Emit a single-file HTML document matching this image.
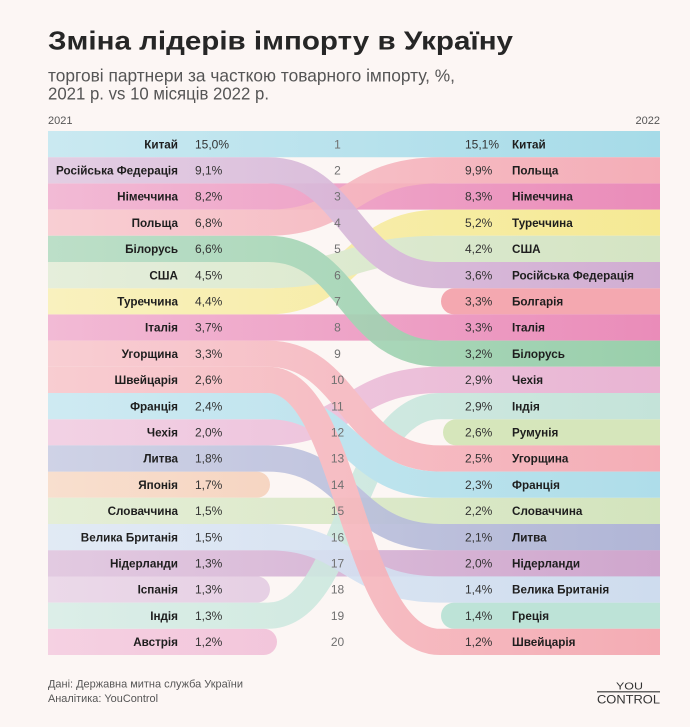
<!DOCTYPE html>
<html><head><meta charset="utf-8">
<style>
html,body{margin:0;padding:0;background:#fcf6f4;}
svg{display:block;}
text{font-family:"Liberation Sans","DejaVu Sans",sans-serif;}
.nm{font-size:11.7px;font-weight:bold;fill:#1e1e1e;}
.vl{font-size:12px;fill:#333;}
.rk{font-size:12px;fill:#707070;text-anchor:middle;}
</style></head>
<body>
<svg width="690" height="727" viewBox="0 0 690 727" xmlns="http://www.w3.org/2000/svg">
<rect width="690" height="727" fill="#fcf6f4"/>
<defs>
<linearGradient id="g1" gradientUnits="userSpaceOnUse" x1="48" y1="0" x2="660" y2="0"><stop offset="0" stop-color="#cae9f1"/><stop offset="1" stop-color="#a6dbe8"/></linearGradient>
<linearGradient id="g2" gradientUnits="userSpaceOnUse" x1="48" y1="0" x2="660" y2="0"><stop offset="0" stop-color="#e1cae2"/><stop offset="1" stop-color="#cda6cf"/></linearGradient>
<linearGradient id="g3" gradientUnits="userSpaceOnUse" x1="48" y1="0" x2="660" y2="0"><stop offset="0" stop-color="#f2bad5"/><stop offset="1" stop-color="#ea8cb9"/></linearGradient>
<linearGradient id="g4" gradientUnits="userSpaceOnUse" x1="48" y1="0" x2="660" y2="0"><stop offset="0" stop-color="#f8cad0"/><stop offset="1" stop-color="#f4a6b1"/></linearGradient>
<linearGradient id="g5" gradientUnits="userSpaceOnUse" x1="48" y1="0" x2="660" y2="0"><stop offset="0" stop-color="#b6ddc4"/><stop offset="1" stop-color="#8fcba4"/></linearGradient>
<linearGradient id="g6" gradientUnits="userSpaceOnUse" x1="48" y1="0" x2="660" y2="0"><stop offset="0" stop-color="#e3eed9"/><stop offset="1" stop-color="#d0e3bf"/></linearGradient>
<linearGradient id="g7" gradientUnits="userSpaceOnUse" x1="48" y1="0" x2="660" y2="0"><stop offset="0" stop-color="#f9f1b9"/><stop offset="1" stop-color="#f5e88a"/></linearGradient>
<linearGradient id="g9" gradientUnits="userSpaceOnUse" x1="48" y1="0" x2="660" y2="0"><stop offset="0" stop-color="#f8cad0"/><stop offset="1" stop-color="#f4a6b0"/></linearGradient>
<linearGradient id="g10" gradientUnits="userSpaceOnUse" x1="48" y1="0" x2="660" y2="0"><stop offset="0" stop-color="#f8c9ce"/><stop offset="1" stop-color="#f4a5ae"/></linearGradient>
<linearGradient id="g11" gradientUnits="userSpaceOnUse" x1="48" y1="0" x2="660" y2="0"><stop offset="0" stop-color="#cae9f2"/><stop offset="1" stop-color="#a6dbe9"/></linearGradient>
<linearGradient id="g12" gradientUnits="userSpaceOnUse" x1="48" y1="0" x2="660" y2="0"><stop offset="0" stop-color="#f1cee3"/><stop offset="1" stop-color="#e7aed0"/></linearGradient>
<linearGradient id="g13" gradientUnits="userSpaceOnUse" x1="48" y1="0" x2="660" y2="0"><stop offset="0" stop-color="#cbcfe5"/><stop offset="1" stop-color="#a9afd3"/></linearGradient>
<linearGradient id="g14" gradientUnits="userSpaceOnUse" x1="48" y1="0" x2="660" y2="0"><stop offset="0" stop-color="#f8dfce"/><stop offset="1" stop-color="#f3c4ad"/></linearGradient>
<linearGradient id="g15" gradientUnits="userSpaceOnUse" x1="48" y1="0" x2="660" y2="0"><stop offset="0" stop-color="#e5eed7"/><stop offset="1" stop-color="#d3e4bd"/></linearGradient>
<linearGradient id="g16" gradientUnits="userSpaceOnUse" x1="48" y1="0" x2="660" y2="0"><stop offset="0" stop-color="#dfe9f5"/><stop offset="1" stop-color="#cadaee"/></linearGradient>
<linearGradient id="g17" gradientUnits="userSpaceOnUse" x1="48" y1="0" x2="660" y2="0"><stop offset="0" stop-color="#e2cae1"/><stop offset="1" stop-color="#cfa6cd"/></linearGradient>
<linearGradient id="g18" gradientUnits="userSpaceOnUse" x1="48" y1="0" x2="660" y2="0"><stop offset="0" stop-color="#ebd9e9"/><stop offset="1" stop-color="#ddbfda"/></linearGradient>
<linearGradient id="g19" gradientUnits="userSpaceOnUse" x1="48" y1="0" x2="660" y2="0"><stop offset="0" stop-color="#d9eee7"/><stop offset="1" stop-color="#bfe2d7"/></linearGradient>
<linearGradient id="g20" gradientUnits="userSpaceOnUse" x1="48" y1="0" x2="660" y2="0"><stop offset="0" stop-color="#f5d1e2"/><stop offset="1" stop-color="#eeb3cf"/></linearGradient>
</defs>

<!-- Title -->
<text x="48" y="49.5" font-size="26" font-weight="bold" fill="#262626" textLength="465" lengthAdjust="spacingAndGlyphs">Зміна лідерів імпорту в Україну</text>
<text x="48" y="81.5" font-size="17.5" fill="#555" textLength="407" lengthAdjust="spacingAndGlyphs">торгові партнери за часткою товарного імпорту, %,</text>
<text x="48" y="99.5" font-size="17.5" fill="#555" textLength="221" lengthAdjust="spacingAndGlyphs">2021 р. vs 10 місяців 2022 р.</text>
<text x="48" y="124" font-size="11" fill="#555">2021</text>
<text x="660" y="124" font-size="11" fill="#555" text-anchor="end">2022</text>

<!-- left-only bars -->
<path d="M48 471.6 H256.9 A13.1 13.1 0 0 1 256.9 497.8 H48 Z" fill="url(#g14)"/>
<path d="M48 576.4 H256.9 A13.1 13.1 0 0 1 256.9 602.6 H48 Z" fill="url(#g18)"/>
<path d="M48 628.8 H263.9 A13.1 13.1 0 0 1 263.9 655 H48 Z" fill="url(#g20)"/>
<!-- right-only bars -->
<path d="M660 288.2 H454.1 A13.1 13.1 0 0 0 454.1 314.4 H660 Z" fill="#f4a8b0"/>
<path d="M660 419.2 H456.1 A13.1 13.1 0 0 0 456.1 445.4 H660 Z" fill="#d6e6bb"/>
<path d="M660 602.6 H454.1 A13.1 13.1 0 0 0 454.1 628.8 H660 Z" fill="#bde3d7"/>

<!-- straight bars -->
<g fill="none" stroke-width="26.3">
<path d="M48 144.1 H660" stroke="url(#g1)"/>
<path d="M48 196.5 H660" stroke="url(#g3)"/>
<path d="M48 327.5 H660" stroke="url(#g3)"/>
<path d="M48 510.9 H660" stroke="url(#g15)"/>
<path d="M48 563.3 H660" stroke="url(#g17)"/>
</g>

<!-- curved flows, ordered by 2022 rank -->
<g fill="none" stroke-width="26.2" opacity="0.9">
<path d="M48 222.7 H268 C350 222.7 350 170.3 440 170.3 H660" stroke="url(#g4)"/>
<path d="M48 301.3 H268 C350 301.3 350 222.7 440 222.7 H660" stroke="url(#g7)"/>
<path d="M48 275.1 H268 C350 275.1 350 248.9 440 248.9 H660" stroke="url(#g6)"/>
<path d="M48 170.3 H268 C350 170.3 350 275.1 440 275.1 H660" stroke="url(#g2)"/>
<path d="M48 248.9 H268 C350 248.9 350 353.7 440 353.7 H660" stroke="url(#g5)"/>
<path d="M48 432.3 H268 C350 432.3 350 379.9 440 379.9 H660" stroke="url(#g12)"/>
<path d="M48 615.7 H268 C350 615.7 350 406.1 440 406.1 H660" stroke="url(#g19)"/>
<path d="M48 353.7 H268 C350 353.7 350 458.5 440 458.5 H660" stroke="url(#g9)"/>
<path d="M48 406.1 H268 C350 406.1 350 484.7 440 484.7 H660" stroke="url(#g11)"/>
<path d="M48 458.5 H268 C350 458.5 350 537.1 440 537.1 H660" stroke="url(#g13)"/>
<path d="M48 537.1 H268 C350 537.1 350 589.5 440 589.5 H660" stroke="url(#g16)"/>
<path d="M48 379.9 H268 C350 379.9 350 641.9 440 641.9 H660" stroke="url(#g10)"/>
</g>

<!-- left labels -->
<g class="nm" text-anchor="end">
<text x="178" y="148.3">Китай</text>
<text x="178" y="174.5">Російська Федерація</text>
<text x="178" y="200.7">Німеччина</text>
<text x="178" y="226.9">Польща</text>
<text x="178" y="253.1">Білорусь</text>
<text x="178" y="279.3">США</text>
<text x="178" y="305.5">Туреччина</text>
<text x="178" y="331.7">Італія</text>
<text x="178" y="357.9">Угорщина</text>
<text x="178" y="384.1">Швейцарія</text>
<text x="178" y="410.3">Франція</text>
<text x="178" y="436.5">Чехія</text>
<text x="178" y="462.7">Литва</text>
<text x="178" y="488.9">Японія</text>
<text x="178" y="515.1">Словаччина</text>
<text x="178" y="541.3">Велика Британія</text>
<text x="178" y="567.5">Нідерланди</text>
<text x="178" y="593.7">Іспанія</text>
<text x="178" y="619.9">Індія</text>
<text x="178" y="646.1">Австрія</text>
</g>
<g class="vl">
<text x="195" y="148.3">15,0%</text>
<text x="195" y="174.5">9,1%</text>
<text x="195" y="200.7">8,2%</text>
<text x="195" y="226.9">6,8%</text>
<text x="195" y="253.1">6,6%</text>
<text x="195" y="279.3">4,5%</text>
<text x="195" y="305.5">4,4%</text>
<text x="195" y="331.7">3,7%</text>
<text x="195" y="357.9">3,3%</text>
<text x="195" y="384.1">2,6%</text>
<text x="195" y="410.3">2,4%</text>
<text x="195" y="436.5">2,0%</text>
<text x="195" y="462.7">1,8%</text>
<text x="195" y="488.9">1,7%</text>
<text x="195" y="515.1">1,5%</text>
<text x="195" y="541.3">1,5%</text>
<text x="195" y="567.5">1,3%</text>
<text x="195" y="593.7">1,3%</text>
<text x="195" y="619.9">1,3%</text>
<text x="195" y="646.1">1,2%</text>
</g>

<!-- ranks -->
<g class="rk">
<text x="337.5" y="148.3">1</text>
<text x="337.5" y="174.5">2</text>
<text x="337.5" y="200.7">3</text>
<text x="337.5" y="226.9">4</text>
<text x="337.5" y="253.1">5</text>
<text x="337.5" y="279.3">6</text>
<text x="337.5" y="305.5">7</text>
<text x="337.5" y="331.7">8</text>
<text x="337.5" y="357.9">9</text>
<text x="337.5" y="384.1">10</text>
<text x="337.5" y="410.3">11</text>
<text x="337.5" y="436.5">12</text>
<text x="337.5" y="462.7">13</text>
<text x="337.5" y="488.9">14</text>
<text x="337.5" y="515.1">15</text>
<text x="337.5" y="541.3">16</text>
<text x="337.5" y="567.5">17</text>
<text x="337.5" y="593.7">18</text>
<text x="337.5" y="619.9">19</text>
<text x="337.5" y="646.1">20</text>
</g>

<!-- right values -->
<g class="vl">
<text x="465" y="148.3">15,1%</text>
<text x="465" y="174.5">9,9%</text>
<text x="465" y="200.7">8,3%</text>
<text x="465" y="226.9">5,2%</text>
<text x="465" y="253.1">4,2%</text>
<text x="465" y="279.3">3,6%</text>
<text x="465" y="305.5">3,3%</text>
<text x="465" y="331.7">3,3%</text>
<text x="465" y="357.9">3,2%</text>
<text x="465" y="384.1">2,9%</text>
<text x="465" y="410.3">2,9%</text>
<text x="465" y="436.5">2,6%</text>
<text x="465" y="462.7">2,5%</text>
<text x="465" y="488.9">2,3%</text>
<text x="465" y="515.1">2,2%</text>
<text x="465" y="541.3">2,1%</text>
<text x="465" y="567.5">2,0%</text>
<text x="465" y="593.7">1,4%</text>
<text x="465" y="619.9">1,4%</text>
<text x="465" y="646.1">1,2%</text>
</g>
<g class="nm">
<text x="512" y="148.3">Китай</text>
<text x="512" y="174.5">Польща</text>
<text x="512" y="200.7">Німеччина</text>
<text x="512" y="226.9">Туреччина</text>
<text x="512" y="253.1">США</text>
<text x="512" y="279.3">Російська Федерація</text>
<text x="512" y="305.5">Болгарія</text>
<text x="512" y="331.7">Італія</text>
<text x="512" y="357.9">Білорусь</text>
<text x="512" y="384.1">Чехія</text>
<text x="512" y="410.3">Індія</text>
<text x="512" y="436.5">Румунія</text>
<text x="512" y="462.7">Угорщина</text>
<text x="512" y="488.9">Франція</text>
<text x="512" y="515.1">Словаччина</text>
<text x="512" y="541.3">Литва</text>
<text x="512" y="567.5">Нідерланди</text>
<text x="512" y="593.7">Велика Британія</text>
<text x="512" y="619.9">Греція</text>
<text x="512" y="646.1">Швейцарія</text>
</g>

<!-- footer -->
<text x="48" y="687.5" font-size="11" fill="#555" textLength="195" lengthAdjust="spacingAndGlyphs">Дані: Державна митна служба України</text>
<text x="48" y="702" font-size="11" fill="#555" textLength="110" lengthAdjust="spacingAndGlyphs">Аналітика: YouControl</text>

<!-- logo -->
<text x="616" y="689.5" font-size="10.5" fill="#333" textLength="27" lengthAdjust="spacingAndGlyphs">YOU</text>
<line x1="597" y1="691.8" x2="660" y2="691.8" stroke="#333" stroke-width="1.2"/>
<text x="597" y="703.5" font-size="12" fill="#333" textLength="63" lengthAdjust="spacingAndGlyphs">CONTROL</text>
</svg>
</body></html>
